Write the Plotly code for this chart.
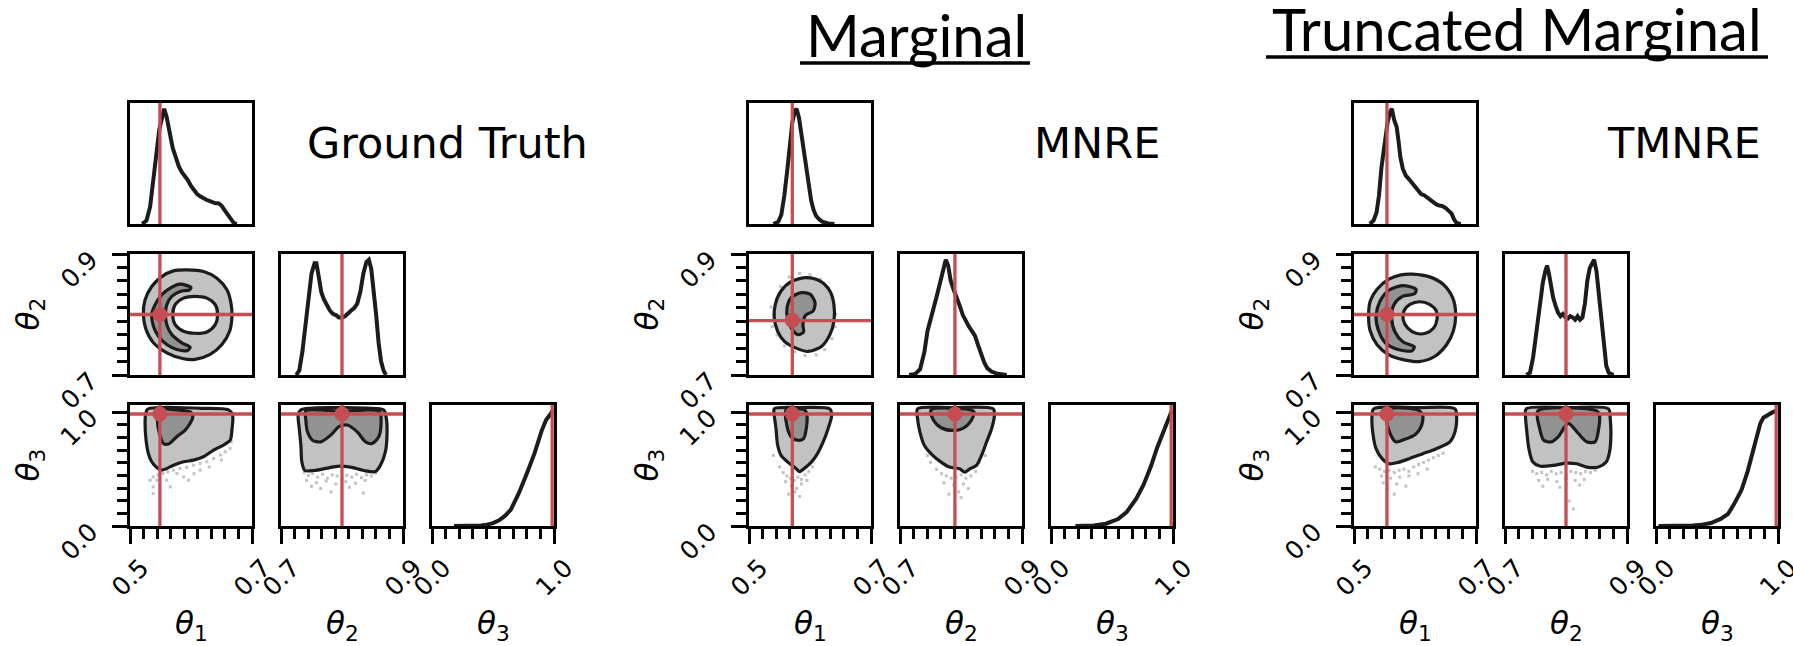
import numpy as np
import plotly.graph_objects as go

W, H = 1793, 646
RED = "#C44E52"
LINE = "#1c1c1c"
OUTER_FILL = "#c2c2c2"
INNER_FILL = "#929292"
DOT = "#c2c2c2"

# ---------------- data ----------------
PARAM_SYMBOL = "θ"
PARAM_INDEX = ["1", "2", "3"]
TICKS_T1 = [0.5, 0.7]
TICKS_T2 = [0.7, 0.9]
TICKS_T3 = [0.0, 1.0]
TICK_TEXT_T1 = ["0.5", "0.7"]
TICK_TEXT_T2 = ["0.7", "0.9"]
TICK_TEXT_T3 = ["0.0", "1.0"]

GT_TRUTH = [0.549, 0.800, 0.985]
MN_TRUTH = [0.571, 0.790, 0.985]
TM_TRUTH = [0.554, 0.800, 0.985]

# Ground truth 1D marginals (normalised density)
GT_H1_X = [0.520,0.527,0.533,0.538,0.543,0.548,0.553,0.556,0.560,0.565,0.570,0.575,0.580,0.585,0.590,0.595,0.600,0.605,0.610,0.615,0.620,0.625,0.630,0.635,0.640,0.645,0.650,0.655,0.660,0.665,0.670,0.675]
GT_H1_Y = [0,0.03,0.15,0.40,0.65,0.82,0.93,1.0,0.93,0.78,0.66,0.58,0.50,0.45,0.42,0.38,0.33,0.29,0.26,0.24,0.22,0.21,0.20,0.19,0.18,0.18,0.16,0.12,0.08,0.04,0.01,0]
GT_H2_X = [0.725,0.730,0.735,0.740,0.745,0.750,0.755,0.758,0.762,0.766,0.770,0.775,0.780,0.785,0.790,0.795,0.800,0.805,0.810,0.815,0.820,0.825,0.830,0.835,0.840,0.844,0.848,0.852,0.856,0.860,0.864,0.868,0.872]
GT_H2_Y = [0,0.04,0.20,0.45,0.70,0.88,0.97,0.97,0.85,0.72,0.66,0.60,0.56,0.53,0.52,0.50,0.50,0.51,0.54,0.56,0.58,0.62,0.72,0.88,0.98,1.0,0.92,0.75,0.52,0.28,0.12,0.04,0]
GT_H3_X = [0.18,0.30,0.40,0.45,0.50,0.55,0.60,0.645,0.71,0.775,0.84,0.90,0.935,0.97,0.99]
GT_H3_Y = [0,0,0.005,0.012,0.025,0.05,0.09,0.14,0.28,0.45,0.63,0.83,0.92,0.97,1.0]

MN_H1_X = [0.540,0.548,0.553,0.558,0.563,0.567,0.571,0.575,0.578,0.582,0.586,0.590,0.594,0.598,0.602,0.606,0.610,0.615,0.620,0.630,0.640]
MN_H1_Y = [0,0.02,0.08,0.25,0.48,0.70,0.88,0.98,1.0,0.92,0.78,0.62,0.46,0.31,0.20,0.12,0.07,0.04,0.02,0.005,0]
MN_H2_X = [0.715,0.725,0.733,0.740,0.745,0.750,0.755,0.760,0.765,0.770,0.775,0.779,0.783,0.788,0.793,0.798,0.803,0.808,0.813,0.818,0.823,0.828,0.833,0.838,0.843,0.850,0.860,0.875]
MN_H2_Y = [0,0.01,0.05,0.20,0.38,0.50,0.58,0.68,0.78,0.88,1.0,0.95,0.82,0.74,0.68,0.60,0.52,0.46,0.42,0.38,0.34,0.26,0.18,0.11,0.06,0.03,0.01,0]
MN_H3_X = [0.20,0.35,0.45,0.55,0.62,0.70,0.76,0.82,0.87,0.92,0.96,0.99]
MN_H3_Y = [0,0.005,0.02,0.06,0.12,0.24,0.36,0.52,0.68,0.82,0.92,1.0]

TM_H1_X = [0.526,0.532,0.537,0.541,0.545,0.550,0.555,0.559,0.562,0.566,0.570,0.573,0.576,0.580,0.585,0.590,0.595,0.600,0.605,0.610,0.615,0.620,0.625,0.630,0.635,0.640,0.645,0.650,0.655,0.660,0.664,0.668,0.675]
TM_H1_Y = [0,0.03,0.10,0.25,0.49,0.72,0.88,0.97,1.0,0.90,0.84,0.72,0.58,0.48,0.42,0.39,0.36,0.33,0.29,0.26,0.25,0.23,0.20,0.18,0.17,0.16,0.155,0.14,0.11,0.09,0.04,0.01,0]
TM_H2_X = [0.735,0.741,0.746,0.750,0.754,0.758,0.762,0.766,0.769,0.772,0.775,0.779,0.783,0.787,0.791,0.795,0.799,0.803,0.807,0.811,0.815,0.819,0.823,0.827,0.831,0.835,0.839,0.843,0.846,0.850,0.854,0.858,0.862,0.866,0.870,0.878]
TM_H2_Y = [0,0.02,0.15,0.32,0.50,0.65,0.80,0.90,0.95,0.88,0.78,0.67,0.60,0.54,0.51,0.53,0.50,0.49,0.51,0.50,0.48,0.51,0.48,0.50,0.62,0.82,0.93,0.97,1.0,0.90,0.70,0.48,0.26,0.08,0.02,0]
TM_H3_X = [0.02,0.20,0.30,0.37,0.45,0.53,0.59,0.64,0.70,0.75,0.80,0.83,0.855,0.88,0.92,0.96,0.99]
TM_H3_Y = [0,0,0.005,0.01,0.026,0.062,0.104,0.19,0.31,0.47,0.68,0.79,0.89,0.94,0.97,0.99,1.0]

# 2D contour outlines (theta_x, theta_y)
GT_21_OUT_X = [.5943,.6205,.6425,.6589,.6655,.6671,.6633,.6507,.6315,.6068,.5877,.5603,.5384,.5263,.5219,.5247,.5356,.5521,.5712]
GT_21_OUT_Y = [.8737,.8710,.8600,.8408,.8189,.7970,.7723,.7504,.7340,.7258,.7268,.7367,.7532,.7751,.7997,.8244,.8463,.8627,.8721]
GT_21_HOLE_X = [.6068,.6260,.6397,.6436,.6397,.6260,.6068,.5877,.5740,.5701,.5740,.5877]
GT_21_HOLE_Y = [.8299,.8271,.8162,.7997,.7833,.7712,.7690,.7723,.7833,.7997,.8162,.8271]
GT_21_IN_X = [.5997,.5822,.5658,.5521,.5411,.5356,.5384,.5466,.5603,.5767,.5942,.5986,.5849,.5685,.5603,.5581,.5603,.5685,.5822,.5975]
GT_21_IN_Y = [.8447,.8501,.8436,.8326,.8162,.7997,.7805,.7641,.7504,.7422,.7405,.7460,.7532,.7668,.7833,.7997,.8162,.8299,.8381,.8408]
GT_31_OUT_X = [.5329,.5603,.6151,.6616,.6682,.6671,.6644,.6534,.6370,.6205,.6041,.5877,.5712,.5603,.5521,.5438,.5356,.5301,.5263,.5247,.5258,.5285]
GT_31_OUT_Y = [1.035,1.044,1.035,1.021,.976,.844,.756,.712,.668,.609,.579,.565,.535,.506,.491,.515,.565,.638,.756,.903,.991,1.026]
GT_31_IN_X = [.5466,.5449,.5482,.5548,.5630,.5767,.5904,.5986,.6030,.5997,.5877,.5658]
GT_31_IN_Y = [1.026,.932,.815,.726,.721,.785,.844,.903,.962,1.0,1.015,1.026]
GT_32_OUT_X = [.7326,.7869,.8412,.8683,.8727,.8738,.8711,.8629,.8548,.8358,.8140,.7950,.7760,.7543,.7391,.7342,.7326,.7299,.7282]
GT_32_OUT_Y = [1.021,1.041,1.036,1.021,.947,.799,.651,.533,.479,.488,.518,.527,.509,.488,.488,.562,.710,.858,.976]
GT_32_IN_X = [.7407,.7652,.7869,.8140,.8412,.8618,.8640,.8602,.8493,.8385,.8249,.8086,.7950,.7815,.7652,.7516,.7434,.7407]
GT_32_IN_Y = [1.012,1.021,1.012,1.012,1.021,1.006,.902,.784,.725,.740,.828,.888,.873,.799,.740,.754,.828,.932]

MN_21_OUT_X = [.5939,.6160,.6326,.6392,.6392,.6326,.6188,.5967,.5773,.5580,.5470,.5414,.5431,.5525,.5691]
MN_21_OUT_Y = [.8611,.8556,.8389,.8167,.7889,.7667,.7472,.7389,.7444,.7556,.7722,.7944,.8167,.8389,.8544]
MN_21_IN_X = [.5856,.6006,.6083,.6050,.5928,.5884,.5895,.5801,.5691,.5630,.5624,.5691]
MN_21_IN_Y = [.8361,.8333,.8194,.8056,.7989,.7833,.7711,.7667,.7778,.7944,.8111,.8278]
MN_31_OUT_X = [.5414,.5829,.6326,.6354,.6298,.6216,.6105,.6022,.5912,.5829,.5762,.5635,.5525,.5470,.5442,.5414]
MN_31_OUT_Y = [1.030,1.041,1.030,.970,.858,.740,.621,.562,.509,.479,.509,.562,.621,.710,.858,.976]
MN_31_IN_X = [.5608,.5619,.5691,.5801,.5895,.5939,.5950,.5912]
MN_31_IN_Y = [1.021,.888,.784,.754,.769,.858,.976,1.021]
MN_32_OUT_X = [.7287,.7867,.8530,.8547,.8503,.8420,.8337,.8254,.8144,.8061,.7978,.7812,.7674,.7536,.7398,.7326,.7287]
MN_32_OUT_Y = [1.030,1.041,1.030,.970,.858,.740,.621,.533,.503,.473,.503,.518,.562,.621,.710,.828,.947]
MN_32_IN_X = [.7508,.7547,.7674,.7867,.8033,.8155,.8210,.7867]
MN_32_IN_Y = [1.021,.932,.864,.840,.858,.917,1.006,1.036]

TM_21_OUT_X = [.5961,.6239,.6461,.6617,.6667,.6628,.6517,.6322,.6072,.5822,.5572,.5378,.5267,.5239,.5267,.5378,.5572,.5767]
TM_21_OUT_Y = [.8667,.8622,.8500,.8278,.8000,.7722,.7500,.7306,.7222,.7250,.7333,.7500,.7722,.7972,.8222,.8417,.8583,.8656]
TM_21_HOLE_X = [.6072,.6239,.6350,.6361,.6306,.6172,.6017,.5878,.5806,.5822,.5917]
TM_21_HOLE_Y = [.8211,.8167,.8056,.7917,.7778,.7689,.7689,.7778,.7917,.8067,.8167]
TM_21_IN_X = [.6017,.5794,.5572,.5422,.5361,.5406,.5517,.5739,.5950,.5989,.5806,.5672,.5617,.5656,.5794,.5994]
TM_21_IN_Y = [.8417,.8478,.8400,.8211,.7972,.7722,.7528,.7417,.7400,.7467,.7544,.7711,.7944,.8167,.8300,.8344]
TM_31_OUT_X = [.5322,.6072,.6656,.6683,.6656,.6572,.6350,.6128,.5906,.5739,.5572,.5461,.5361,.5306,.5294]
TM_31_OUT_Y = [1.030,1.041,1.030,.947,.828,.740,.680,.636,.592,.562,.547,.592,.680,.828,.947]
TM_31_IN_X = [.5544,.5561,.5683,.5822,.6006,.6100,.6128,.6044]
TM_31_IN_Y = [1.021,.858,.740,.760,.805,.873,.970,1.021]
TM_32_OUT_X = [.7347,.8063,.8697,.8725,.8736,.8714,.8659,.8532,.8339,.8174,.8008,.7788,.7568,.7457,.7391,.7358,.7336]
TM_32_OUT_Y = [1.030,1.041,1.030,.947,.799,.651,.562,.518,.518,.547,.553,.533,.527,.562,.680,.828,.962]
TM_32_IN_X = [.7540,.7568,.7634,.7760,.7871,.8036,.8201,.8339,.8477,.8532,.8548,.8504]
TM_32_IN_Y = [1.012,.858,.754,.740,.784,.902,.814,.740,.740,.843,.976,1.012]

# sparse samples outside the contours
GT_31_DOT_X = [0.533,0.538,0.546,0.554,0.562,0.571,0.582,0.593,0.604,0.615,0.626,0.637,0.648,0.656,0.664,0.666,0.538,0.560,0.588,0.615,0.544,0.577,0.596,0.566,0.538,0.630,0.650,0.605]
GT_31_DOT_Y = [0.403,0.432,0.447,0.462,0.476,0.491,0.506,0.515,0.535,0.550,0.565,0.594,0.624,0.653,0.682,0.741,0.344,0.403,0.432,0.491,0.403,0.462,0.403,0.344,0.285,0.520,0.580,0.460]
GT_32_DOT_X = [0.738,0.745,0.752,0.760,0.768,0.776,0.784,0.792,0.800,0.808,0.816,0.824,0.832,0.840,0.848,0.855,0.742,0.758,0.774,0.790,0.806,0.822,0.838,0.765,0.782,0.812,0.835,0.750]
GT_32_DOT_Y = [0.470,0.445,0.460,0.430,0.455,0.420,0.450,0.440,0.410,0.445,0.430,0.455,0.425,0.450,0.440,0.465,0.400,0.380,0.395,0.370,0.390,0.375,0.400,0.330,0.300,0.340,0.290,0.350]
MN_21_DOT_X = [0.540,0.545,0.552,0.566,0.583,0.600,0.617,0.630,0.638,0.642,0.641,0.636,0.624,0.610,0.592,0.575,0.558,0.546,0.538,0.536]
MN_21_DOT_Y = [0.800,0.826,0.846,0.862,0.868,0.866,0.858,0.844,0.823,0.800,0.780,0.760,0.742,0.733,0.732,0.738,0.748,0.766,0.780,0.812]
MN_31_DOT_X = [0.550,0.556,0.562,0.568,0.574,0.580,0.586,0.592,0.598,0.604,0.570,0.578,0.586,0.560,0.595,0.575,0.565,0.583,0.540,0.612]
MN_31_DOT_Y = [0.520,0.470,0.440,0.420,0.400,0.430,0.410,0.450,0.480,0.520,0.350,0.330,0.370,0.390,0.400,0.300,0.280,0.260,0.620,0.640]
MN_32_DOT_X = [0.760,0.768,0.776,0.784,0.792,0.800,0.808,0.816,0.824,0.772,0.788,0.804,0.796,0.812,0.780,0.750,0.830,0.840,0.745,0.800]
MN_32_DOT_Y = [0.500,0.460,0.440,0.420,0.430,0.450,0.420,0.440,0.480,0.380,0.360,0.370,0.300,0.330,0.280,0.560,0.560,0.620,0.620,0.250]
TM_31_DOT_X = [0.535,0.542,0.550,0.558,0.566,0.574,0.582,0.590,0.598,0.606,0.614,0.622,0.630,0.638,0.646,0.545,0.560,0.575,0.590,0.605,0.548,0.570,0.555,0.585,0.620,0.566]
TM_31_DOT_Y = [0.520,0.500,0.480,0.490,0.470,0.490,0.500,0.480,0.520,0.540,0.560,0.580,0.600,0.620,0.640,0.440,0.420,0.430,0.440,0.460,0.380,0.370,0.330,0.350,0.500,0.280]
TM_32_DOT_X = [0.745,0.752,0.760,0.768,0.776,0.784,0.792,0.800,0.808,0.816,0.824,0.832,0.840,0.848,0.755,0.770,0.785,0.800,0.815,0.830,0.762,0.790,0.822,0.805,0.812]
TM_32_DOT_Y = [0.480,0.460,0.470,0.450,0.480,0.460,0.470,0.450,0.480,0.470,0.460,0.480,0.470,0.490,0.400,0.410,0.390,0.420,0.400,0.410,0.350,0.340,0.360,0.220,0.150]

# ---------------- layout geometry (pixels) ----------------
CORNER_X0 = [130, 749, 1354]
ROW_TOP = [103, 254, 405]
STEP = 151
PW, PH = 122, 121
X_RANGES = [[0.5, 0.7], [0.7, 0.9], [0.0, 1.0]]
Y2D_RANGES = {1: [0.7, 0.9], 2: [0.0, 1.064]}
HIST_YMAX = 1.05
TICKS = [TICKS_T1, TICKS_T2, TICKS_T3]
TICK_TEXT = [TICK_TEXT_T1, TICK_TEXT_T2, TICK_TEXT_T3]

corners = [
    dict(truth=GT_TRUTH, x0=CORNER_X0[0], label="Ground Truth", label_right=590,
         hist=[(GT_H1_X, GT_H1_Y), (GT_H2_X, GT_H2_Y), (GT_H3_X, GT_H3_Y)],
         panels={(1, 0): dict(outer=(GT_21_OUT_X, GT_21_OUT_Y), hole=(GT_21_HOLE_X, GT_21_HOLE_Y), inner=(GT_21_IN_X, GT_21_IN_Y)),
                 (2, 0): dict(outer=(GT_31_OUT_X, GT_31_OUT_Y), inner=(GT_31_IN_X, GT_31_IN_Y), dots=(GT_31_DOT_X, GT_31_DOT_Y)),
                 (2, 1): dict(outer=(GT_32_OUT_X, GT_32_OUT_Y), inner=(GT_32_IN_X, GT_32_IN_Y), dots=(GT_32_DOT_X, GT_32_DOT_Y))}),
    dict(truth=MN_TRUTH, x0=CORNER_X0[1], label="MNRE", label_right=1162,
         hist=[(MN_H1_X, MN_H1_Y), (MN_H2_X, MN_H2_Y), (MN_H3_X, MN_H3_Y)],
         panels={(1, 0): dict(outer=(MN_21_OUT_X, MN_21_OUT_Y), inner=(MN_21_IN_X, MN_21_IN_Y), dots=(MN_21_DOT_X, MN_21_DOT_Y)),
                 (2, 0): dict(outer=(MN_31_OUT_X, MN_31_OUT_Y), inner=(MN_31_IN_X, MN_31_IN_Y), dots=(MN_31_DOT_X, MN_31_DOT_Y)),
                 (2, 1): dict(outer=(MN_32_OUT_X, MN_32_OUT_Y), inner=(MN_32_IN_X, MN_32_IN_Y), dots=(MN_32_DOT_X, MN_32_DOT_Y))}),
    dict(truth=TM_TRUTH, x0=CORNER_X0[2], label="TMNRE", label_right=1763,
         hist=[(TM_H1_X, TM_H1_Y), (TM_H2_X, TM_H2_Y), (TM_H3_X, TM_H3_Y)],
         panels={(1, 0): dict(outer=(TM_21_OUT_X, TM_21_OUT_Y), hole=(TM_21_HOLE_X, TM_21_HOLE_Y), inner=(TM_21_IN_X, TM_21_IN_Y)),
                 (2, 0): dict(outer=(TM_31_OUT_X, TM_31_OUT_Y), inner=(TM_31_IN_X, TM_31_IN_Y), dots=(TM_31_DOT_X, TM_31_DOT_Y)),
                 (2, 1): dict(outer=(TM_32_OUT_X, TM_32_OUT_Y), inner=(TM_32_IN_X, TM_32_IN_Y), dots=(TM_32_DOT_X, TM_32_DOT_Y))}),
]


def px(x):
    return x / W


def py(y):
    return 1 - y / H


def closed(xs, ys):
    return list(xs) + [xs[0]], list(ys) + [ys[0]]


fig = go.Figure()
layout_axes = {}
shapes = []
annotations = []
TICKFONT = dict(family="DejaVu Sans", size=25, color="black")
LABELFONT = dict(family="DejaVu Sans", size=31, color="black")


def base_axis(domain, rng):
    return dict(domain=domain, range=rng, showgrid=False, zeroline=False, showline=True,
                mirror=True, linecolor="black", linewidth=3, showticklabels=False,
                ticks="", fixedrange=True)


def add_ticks(ax, rng_ticks):
    lo, hi = rng_ticks
    minor_vals = list(np.linspace(lo, hi, 10)[1:-1])
    ax.update(ticks="outside", tickvals=[lo, hi], ticklen=15, tickwidth=2.7, tickcolor="black",
              minor=dict(ticks="outside", tickvals=minor_vals, ticklen=10, tickwidth=2.7, tickcolor="black"))


def label_text(k):
    return f"<i>{PARAM_SYMBOL}</i><sub>{PARAM_INDEX[k]}</sub>"


n = 0
for c in corners:
    x0 = c["x0"]
    truth = c["truth"]
    for i in range(3):
        for j in range(i + 1):
            n += 1
            xname = "x" if n == 1 else f"x{n}"
            yname = "y" if n == 1 else f"y{n}"
            xd = [px(x0 + j * STEP), px(x0 + j * STEP + PW)]
            yd = [py(ROW_TOP[i] + PH), py(ROW_TOP[i])]
            xa = base_axis(xd, X_RANGES[j])
            xa["anchor"] = yname
            if i == j:
                ya = base_axis(yd, [0, HIST_YMAX])
                hx, hy = c["hist"][j]
                fig.add_trace(go.Scatter(x=hx, y=hy, mode="lines", xaxis=xname, yaxis=yname,
                                         line=dict(color=LINE, width=4), showlegend=False,
                                         hoverinfo="skip"))
                shapes.append(dict(type="line", xref=xname, yref=f"{yname} domain", x0=truth[j], x1=truth[j],
                                   y0=0, y1=1, line=dict(color=RED, width=3.3), layer="above"))
            else:
                ya = base_axis(yd, Y2D_RANGES[i])
                p = c["panels"][(i, j)]
                if "dots" in p:
                    dx, dy = p["dots"]
                    fig.add_trace(go.Scatter(x=dx, y=dy, mode="markers", xaxis=xname, yaxis=yname,
                                             marker=dict(color=DOT, size=3, symbol="square"),
                                             showlegend=False, hoverinfo="skip"))
                ox, oy = closed(*p["outer"])
                fig.add_trace(go.Scatter(x=ox, y=oy, mode="lines", fill="toself", fillcolor=OUTER_FILL,
                                         line=dict(color=LINE, width=3.2, shape="spline", smoothing=0.8),
                                         xaxis=xname, yaxis=yname, showlegend=False, hoverinfo="skip"))
                if "hole" in p:
                    hx2, hy2 = closed(*p["hole"])
                    fig.add_trace(go.Scatter(x=hx2, y=hy2, mode="lines", fill="toself", fillcolor="white",
                                             line=dict(color=LINE, width=3.2, shape="spline", smoothing=0.8),
                                             xaxis=xname, yaxis=yname, showlegend=False, hoverinfo="skip"))
                ix, iy = closed(*p["inner"])
                fig.add_trace(go.Scatter(x=ix, y=iy, mode="lines", fill="toself", fillcolor=INNER_FILL,
                                         line=dict(color=LINE, width=3.2, shape="spline", smoothing=0.8),
                                         xaxis=xname, yaxis=yname, showlegend=False, hoverinfo="skip"))
                fig.add_trace(go.Scatter(x=[truth[j]], y=[truth[i]], mode="markers", xaxis=xname, yaxis=yname,
                                         marker=dict(color=RED, size=15), showlegend=False, hoverinfo="skip"))
                shapes.append(dict(type="line", xref=xname, yref=f"{yname} domain", x0=truth[j], x1=truth[j],
                                   y0=0, y1=1, line=dict(color=RED, width=3.3), layer="above"))
                shapes.append(dict(type="line", xref=f"{xname} domain", yref=yname, x0=0, x1=1,
                                   y0=truth[i], y1=truth[i], line=dict(color=RED, width=3.3), layer="above"))
            ya["anchor"] = xname
            if i == 2:
                add_ticks(xa, TICKS[j])
                for val, txt in zip(TICKS[j], TICK_TEXT[j]):
                    annotations.append(dict(x=val, xref=xname, y=py(577), yref="paper", text=txt,
                                            showarrow=False, textangle=-45, font=TICKFONT,
                                            xanchor="center", yanchor="middle"))
            if j == 0 and i > 0:
                add_ticks(ya, TICKS[i])
                for val, txt in zip(TICKS[i], TICK_TEXT[i]):
                    annotations.append(dict(x=px(x0 - 51), xref="paper", y=val, yref=yname, yshift=-15,
                                            text=txt, showarrow=False, textangle=-45, font=TICKFONT,
                                            xanchor="center", yanchor="middle"))
            layout_axes["xaxis" if n == 1 else f"xaxis{n}"] = xa
            layout_axes["yaxis" if n == 1 else f"yaxis{n}"] = ya
    # axis name labels
    for j in range(3):
        annotations.append(dict(x=px(x0 + j * STEP + PW / 2), y=py(625), xref="paper", yref="paper",
                                text=label_text(j), showarrow=False, font=LABELFONT,
                                xanchor="center", yanchor="middle"))
    for i in (1, 2):
        annotations.append(dict(x=px(x0 - 100), y=py(ROW_TOP[i] + PH / 2), xref="paper", yref="paper",
                                text=label_text(i), showarrow=False, textangle=-90, font=LABELFONT,
                                xanchor="center", yanchor="middle"))
    annotations.append(dict(x=px(c["label_right"]), y=py(143), xref="paper", yref="paper",
                            text=c["label"], showarrow=False,
                            font=dict(family="DejaVu Sans", size=43, color="black"),
                            xanchor="right", yanchor="middle"))

# headings
HEADINGS = [("Marginal", 916, 35, 800, 1030, 63), ("Truncated Marginal", 1517, 29, 1266, 1768, 57)]
for txt, cx, cy, ux0, ux1, uy in HEADINGS:
    annotations.append(dict(x=px(cx), y=py(cy), xref="paper", yref="paper", text=txt, showarrow=False,
                            font=dict(family="Lato", size=58, color="black"),
                            xanchor="center", yanchor="middle"))
    shapes.append(dict(type="line", xref="paper", yref="paper", x0=px(ux0), x1=px(ux1),
                       y0=py(uy), y1=py(uy), line=dict(color="black", width=3.5)))

fig.update_layout(width=W, height=H, margin=dict(l=0, r=0, t=0, b=0),
                  paper_bgcolor="white", plot_bgcolor="white", showlegend=False,
                  shapes=shapes, annotations=annotations, **layout_axes)
fig.write_html("out.html")
